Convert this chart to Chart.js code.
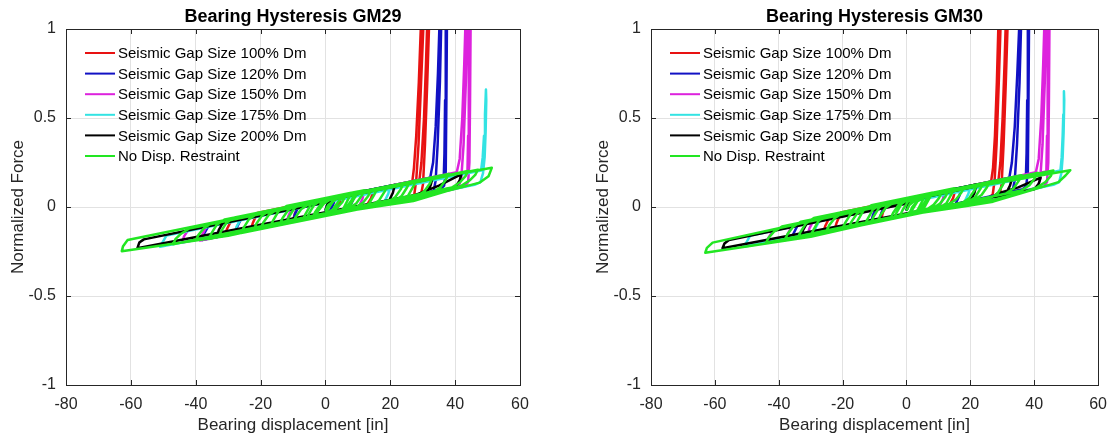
<!DOCTYPE html>
<html>
<head>
<meta charset="utf-8">
<script src="https://cdn.jsdelivr.net/npm/chart.js@4/dist/chart.umd.min.js"></script>
<style>
  html, body { margin: 0; padding: 0; background: #fff; width: 1117px; height: 439px; overflow: hidden; }
  canvas { position: absolute; top: 0; }
  #c29 { left: 0; }
  #c30 { left: 585px; }
</style>
</head>
<body>
<canvas id="c29" width="560" height="439"></canvas>
<canvas id="c30" width="532" height="439"></canvas>
<script>
// Series names, in legend order
const seriesLabels = [
  'Seismic Gap Size 100% Dm',
  'Seismic Gap Size 120% Dm',
  'Seismic Gap Size 150% Dm',
  'Seismic Gap Size 175% Dm',
  'Seismic Gap Size 200% Dm',
  'No Disp. Restraint'
];
const seriesColors = ['#e81212', '#1111c4', '#dd22dd', '#33e3e3', '#000000', '#22e622'];

// Axis ticks
const xTicks = [-80, -60, -40, -20, 0, 20, 40, 60];
const yTicks = [-1, -0.5, 0, 0.5, 1];

// ---------- GM29: [displacement (in), normalized force] ----------
const gm29Gap100 = [
  [0,-0.02],[0.6,0.015],[2,0.052],[14.7,0.089],
  [14.1,0.05],[12.7,0.007],[-10,-0.077],
  [-9.4,-0.035],[-8,0.015],[26.8,0.144],
  [27.3,0.22],[28,0.4],[28.8,0.7],[29.6,1.1],
  [30.4,1.1],[29.5,0.7],[28.7,0.35],[28,0.15],[27.4,0.07],[26,0.051],
  [-23,-0.13],
  [-22.4,-0.09],[-21,-0.033],[29,0.152],
  [29.6,0.25],[30.4,0.5],[31,0.8],[31.5,1.1],
  [32.1,1.1],[31.4,0.7],[30.7,0.35],[30.1,0.13],[29.5,0.07],[28.5,0.06],
  [-31,-0.16],
  [-30.4,-0.125],[-29,-0.075],[5,0.055],
  [4.4,0.025],[3,-0.029],[0,-0.04]
];
const gm29Gap120 = [
  [0,-0.02],[0.6,0.015],[2,0.052],[9,0.078],
  [8.4,0.035],[7,-0.019],[-10,-0.082],
  [-9.4,-0.04],[-8,0.015],[32.3,0.164],
  [33.2,0.25],[34,0.45],[34.7,0.75],[35.3,1.1],
  [35.8,1.1],[35.3,0.7],[34.6,0.35],[34,0.15],[33.4,0.09],[32,0.075],
  [-27.8,-0.148],
  [-27.2,-0.11],[-25.8,-0.06],[36.5,0.175],
  [36.7,0.3],[36.9,0.6],[37.1,1.1],
  [37.5,1.1],[37.3,0.6],[37.1,0.2],[36.6,0.12],[35.5,0.1],[30,0.075],
  [-38,-0.186],
  [-37.4,-0.15],[-36,-0.105],[3,0.045],
  [2.4,0.015],[1,-0.036],[0,-0.04]
];
const gm29Gap150 = [
  [0,-0.02],[0.6,0.015],[2,0.052],[12,0.089],
  [11.4,0.045],[10,-0.008],[-12,-0.089],
  [-11.4,-0.05],[-10,0.008],[40.5,0.195],
  [41.4,0.27],[42.2,0.5],[42.8,0.8],[43.3,1.1],
  [43.8,1.1],[43.3,0.7],[42.6,0.35],[41.9,0.16],[41,0.11],[39.5,0.1],
  [-44.2,-0.199],
  [-43.6,-0.165],[-42.2,-0.125],[43.8,0.2],
  [44,0.4],[44.2,0.8],[44.4,1.1],
  [44.8,1.1],[44.6,0.6],[44.4,0.25],[44,0.14],[43,0.115],
  [-38.7,-0.188],
  [-38.1,-0.16],[-36.7,-0.11],[0,0.025]
];
const gm29Gap175 = [
  [0,-0.02],[0.6,0.015],[2,0.052],[20,0.119],
  [19.4,0.075],[18,0.022],[-51,-0.224],
  [-50.4,-0.205],[-49,-0.16],[48,0.205],
  [48.5,0.28],[48.9,0.4],[49.2,0.52],[49.5,0.66],
  [49.6,0.6],[49.4,0.42],[49.1,0.28],[48.6,0.19],[47.8,0.14],[46,0.125],
  [-28,-0.149],
  [-27.4,-0.11],[-26,-0.065],[0,0.03]
];
const gm29Gap200 = [
  [0,-0.02],[0.6,0.015],[2,0.052],[21.4,0.124],
  [20.8,0.08],[19.4,0.027],[-33.5,-0.169],
  [-32.9,-0.13],[-31.5,-0.085],[33,0.16],
  [32.4,0.12],[31,0.07],[27,0.055],
  [28,0.07],[35,0.12],[41.5,0.18],[42,0.19],
  [41.4,0.15],[40,0.11],[-58,-0.232],
  [-57.4,-0.2],[-56,-0.182],[0,0.025]
];
const gm29Free = [
  [0,-0.02],[0.8,0.01],[2.5,0.034],[5,0.064],
  [4.2,0.034],[2.5,-0.011],[0,-0.04],[-3,-0.051],
  [-2.2,-0.021],[-0.5,0.018],[2,0.0474],[9,0.073],
  [8.2,0.043],[6.5,-0.001],[4,-0.0302],[-7,-0.071],
  [-6.2,-0.041],[-4.5,0.013],[-2,0.0426],[12,0.094],
  [11.2,0.064],[9.5,0.02],[7,-0.009],[2,-0.028],
  [2.8,0.002],[4.5,0.042],[7,0.071],[16,0.104],
  [15.2,0.074],[13.5,0.02],[11,-0.0093],[-10,-0.087],
  [-9.2,-0.057],[-7.5,-0.013],[-5,0.0165],[6,0.057],
  [5.2,0.027],[3.5,-0.007],[1,-0.036],[-14,-0.092],
  [-13.2,-0.062],[-11.5,-0.018],[-9,0.0117],[19,0.115],
  [18.2,0.085],[16.5,0.036],[14,0.0068],[-4,-0.06],
  [-3.2,-0.03],[-1.5,0.014],[1,0.0437],[24,0.129],
  [23.2,0.099],[21.5,0.055],[19,0.0253],[-17,-0.108],
  [-16.2,-0.078],[-14.5,-0.024],[-12,0.0056],[10,0.087],
  [9.2,0.057],[7.5,0.008],[5,-0.0215],[-22,-0.121],
  [-21.2,-0.091],[-19.5,-0.047],[-17,-0.0179],[28,0.149],
  [27.2,0.119],[25.5,0.064],[23,0.0351],[-26,-0.146],
  [-25.2,-0.116],[-23.5,-0.067],[-21,-0.0377],[33,0.162],
  [32.2,0.132],[30.5,0.088],[28,0.0586],[-33,-0.167],
  [-32.2,-0.137],[-30.5,-0.088],[-28,-0.0586],[38,0.186],
  [37.2,0.156],[35.5,0.111],[33,0.0821],[-40,-0.188],
  [-39.2,-0.158],[-37.5,-0.119],[-35,-0.0895],[44,0.203],
  [43.2,0.173],[41.5,0.139],[39,0.1093],[-47,-0.209],
  [-46.2,-0.179],[-44.5,-0.15],[-42,-0.1204],[47,0.209],
  [46.2,0.18],[44.5,0.15],[42,0.12],[37.4,0.093],[27,0.045],[16.8,0.01],[0,-0.042],[-30,-0.162],[-62.8,-0.248],
  [-62.4,-0.22],[-61,-0.185],[-30,-0.07],[0,0.04],[20,0.118],[51.3,0.22],
  [50.3,0.173],[47.6,0.137],[37.4,0.089],[27.1,0.033],[16.8,0.005],[0,-0.042],[-36,-0.18],
  [-35.2,-0.15],[-33.5,-0.099],[-31,-0.0697],[26,0.141],
  [25.2,0.111],[23.5,0.062],[21,0.0327],[-20,-0.119],
  [-19.2,-0.089],[-17.5,-0.045],[-15,-0.0155],[14,0.092],
  [13.2,0.062],[11.5,0.023],[9,-0.0067],[-12,-0.084],
  [-11.2,-0.054],[-9.5,-0.005],[-7,0.0241],[8,0.08],
  [7.2,0.05],[5.5,-0.01],[3,-0.0389],[-6,-0.072],
  [-5.2,-0.042],[-3.5,0.012],[-1,0.0413],[3,0.056],
  [2.2,0.026],[0.5,-0.018],[0,-0.03]
];

// ---------- GM30 ----------
const gm30Gap100 = [
  [0,-0.02],[0.6,0.015],[2,0.052],[15.2,0.09],
  [14.6,0.05],[13.2,0.004],[-22.5,-0.128],
  [-21.9,-0.09],[-20.5,-0.031],[26.5,0.143],
  [27.1,0.22],[27.7,0.4],[28.3,0.7],[28.9,1.1],
  [29.6,1.1],[28.9,0.7],[28.2,0.35],[27.6,0.15],[27,0.07],[25.5,0.049],
  [-26,-0.141],
  [-25.4,-0.105],[-24,-0.055],[28.8,0.15],
  [29.4,0.25],[30.1,0.5],[30.7,0.8],[31.2,1.1],
  [31.8,1.1],[31.1,0.7],[30.4,0.35],[29.8,0.13],[29.2,0.07],[28,0.06],
  [-8,-0.075],
  [-7.4,-0.03],[-6,0.023],[0,0.045]
];
const gm30Gap120 = [
  [0,-0.02],[0.6,0.015],[2,0.052],[17.2,0.109],
  [16.6,0.065],[15.2,0.011],[-11.1,-0.086],
  [-10.5,-0.045],[-9.1,0.011],[32.2,0.164],
  [33,0.25],[33.9,0.45],[34.7,0.75],[35.5,1.1],
  [36,1.1],[35.4,0.7],[34.6,0.35],[33.9,0.15],[33.2,0.09],[32,0.075],
  [-36,-0.178],
  [-35.4,-0.15],[-34,-0.1],[37.4,0.175],
  [37.6,0.3],[37.8,0.6],[38,1.1],
  [38.4,1.1],[38.2,0.6],[38,0.2],[37.5,0.12],[36.4,0.1],[30,0.075],
  [-8.5,-0.076],
  [-7.9,-0.035],[-6.5,0.021],[0,0.045]
];
const gm30Gap150 = [
  [0,-0.02],[0.6,0.015],[2,0.052],[12,0.089],
  [11.4,0.045],[10,-0.008],[-31,-0.16],
  [-30.4,-0.12],[-29,-0.072],[40.5,0.195],
  [41.4,0.27],[42.2,0.5],[42.8,0.8],[43.3,1.1],
  [43.8,1.1],[43.3,0.7],[42.6,0.35],[41.9,0.16],[41,0.11],[39.5,0.1],
  [-43.7,-0.197],
  [-43.1,-0.17],[-41.7,-0.13],[43.8,0.2],
  [44,0.4],[44.2,0.8],[44.4,1.1],
  [44.8,1.1],[44.6,0.6],[44.4,0.25],[44,0.14],[43,0.115],
  [-38,-0.186],
  [-37.4,-0.16],[-36,-0.11],[0,0.02]
];
const gm30Gap175 = [
  [0,-0.02],[0.6,0.015],[2,0.052],[20,0.119],
  [19.4,0.075],[18,0.022],[-50.9,-0.223],
  [-50.3,-0.205],[-48.9,-0.16],[48.2,0.205],
  [48.6,0.28],[48.9,0.4],[49.1,0.52],[49.3,0.65],
  [49.4,0.6],[49.2,0.42],[48.9,0.28],[48.5,0.19],[47.8,0.14],[46,0.125],
  [-29,-0.152],
  [-28.4,-0.115],[-27,-0.07],[0,0.03]
];
const gm30Gap200 = [
  [0,-0.02],[0.6,0.015],[2,0.052],[21.9,0.126],
  [21.3,0.08],[19.9,0.029],[-33,-0.167],
  [-32.4,-0.13],[-31,-0.085],[33,0.158],
  [32.4,0.12],[31,0.07],[27.7,0.055],
  [28.3,0.075],[35,0.11],[42,0.165],
  [41.4,0.13],[40,0.1],[-57.6,-0.232],
  [-57,-0.205],[-55.6,-0.185],[0,0.02]
];
const gm30Free = [
  [0,-0.02],[0.8,0.01],[2.5,0.034],[7,0.071],
  [6.2,0.041],[4.5,-0.008],[2,-0.0376],[-5,-0.0635],
  [-4.2,-0.034],[-2.5,0.011],[0,0.04],[11,0.0807],
  [10.2,0.051],[8.5,0.012],[6,-0.0178],[-2,-0.0474],
  [-1.2,-0.017],[0.5,0.032],[3,0.0611],[15,0.1055],
  [14.2,0.076],[12.5,0.021],[10,-0.008],[-9,-0.0783],
  [-8.2,-0.048],[-6.5,-0.004],[-4,0.0252],[4,0.0548],
  [3.2,0.025],[1.5,-0.024],[-1,-0.0537],[-13,-0.0981],
  [-12.2,-0.068],[-10.5,-0.014],[-8,0.0154],[18,0.1116],
  [17.2,0.082],[15.5,0.042],[13,0.0131],[1,-0.0313],
  [1.8,-0.001],[3.5,0.033],[6,0.0622],[22,0.1214],
  [21.2,0.091],[19.5,0.047],[17,0.0179],[-16,-0.1042],
  [-15.2,-0.074],[-13.5,-0.02],[-11,0.0093],[8,0.0796],
  [7.2,0.05],[5.5,-0.005],[3,-0.0339],[-20,-0.119],
  [-19.2,-0.089],[-17.5,-0.04],[-15,-0.0105],[26,0.1412],
  [25.2,0.111],[23.5,0.067],[21,0.0377],[-25,-0.1325],
  [-24.2,-0.103],[-22.5,-0.063],[-20,-0.034],[31,0.1547],
  [30.2,0.125],[28.5,0.076],[26,0.0462],[-30,-0.161],
  [-29.2,-0.131],[-27.5,-0.077],[-25,-0.0475],[36,0.1782],
  [35.2,0.148],[33.5,0.104],[31,0.0747],[-38,-0.1806],
  [-37.2,-0.151],[-35.5,-0.111],[-33,-0.0821],[41,0.1917],
  [40.2,0.162],[38.5,0.122],[36,0.0932],[-44,-0.2028],
  [-43.2,-0.173],[-41.5,-0.139],[-39,-0.1093],[46,0.2052],
  [45.2,0.175],[43.5,0.14],[41,0.112],[37.4,0.088],[27,0.04],[16.8,0.003],[0,-0.045],[-30,-0.167],[-63,-0.257],
  [-62.5,-0.23],[-60.7,-0.2],[-30,-0.08],[0,0.035],[20,0.11],[51.3,0.207],
  [49.8,0.177],[47.6,0.14],[37.4,0.085],[27.1,0.03],[16.8,0],[0,-0.045],[-34,-0.171],
  [-33.2,-0.141],[-31.5,-0.092],[-29,-0.0623],[24,0.1338],
  [23.2,0.104],[21.5,0.055],[19,0.0253],[-18,-0.1116],
  [-17.2,-0.082],[-15.5,-0.037],[-13,-0.0081],[13,0.0881],
  [12.2,0.058],[10.5,0.019],[8,-0.0104],[-11,-0.0807],
  [-10.2,-0.051],[-8.5,-0.002],[-6,0.0278],[6,0.0722],
  [5.2,0.042],[3.5,-0.017],[1,-0.0463],[-4,-0.0648],
  [-3.2,-0.035],[-1.5,0.019],[1,0.0487],[2,0.0524],
  [1.2,0.022],[0,-0.02]
];

const FONT = "'Liberation Sans', Arial, Helvetica, sans-serif";
const AXIS_COLOR = '#262626';

// Box, inward tick marks, heading and legend drawn over the plot
const decorPlugin = {
  id: 'decor',
  afterDatasetsDraw(chart) {
    const { ctx, chartArea: a, scales } = chart;
    ctx.save();
    ctx.strokeStyle = AXIS_COLOR;
    ctx.lineWidth = 1;
    ctx.beginPath();
    const tl = 5;
    xTicks.forEach(v => {
      const px = Math.round(scales.x.getPixelForValue(v)) + 0.5;
      ctx.moveTo(px, a.bottom); ctx.lineTo(px, a.bottom - tl);
      ctx.moveTo(px, a.top); ctx.lineTo(px, a.top + tl);
    });
    yTicks.forEach(v => {
      const py = Math.round(scales.y.getPixelForValue(v)) + 0.5;
      ctx.moveTo(a.left, py); ctx.lineTo(a.left + tl, py);
      ctx.moveTo(a.right, py); ctx.lineTo(a.right - tl, py);
    });
    ctx.stroke();
    ctx.strokeRect(Math.round(a.left) + 0.5, Math.round(a.top) + 0.5,
                   Math.round(a.right - a.left), Math.round(a.bottom - a.top));
    ctx.restore();
  },
  afterDraw(chart, args, opts) {
    const { ctx, chartArea: a } = chart;
    ctx.save();
    // heading
    ctx.fillStyle = '#000';
    ctx.font = 'bold 18px ' + FONT;
    ctx.textAlign = 'center';
    ctx.textBaseline = 'middle';
    ctx.fillText(opts.heading, (a.left + a.right) / 2, 17);
    // legend
    ctx.font = '15px ' + FONT;
    ctx.textAlign = 'left';
    chart.data.datasets.forEach((ds, i) => {
      const y = a.top + 24 + i * 20.6;
      ctx.strokeStyle = ds.borderColor;
      ctx.lineWidth = 2;
      ctx.beginPath();
      ctx.moveTo(a.left + 19, y);
      ctx.lineTo(a.left + 49, y);
      ctx.stroke();
      ctx.fillStyle = '#000';
      ctx.fillText(ds.label, a.left + 52, y + 1);
    });
    ctx.restore();
  }
};

function toPoints(arr) { return arr.map(p => ({ x: p[0], y: p[1] })); }

function buildChart(id, heading, series, rightPad) {
  const datasets = series.map((s, i) => ({
    label: seriesLabels[i],
    data: toPoints(s),
    borderColor: seriesColors[i],
    backgroundColor: seriesColors[i],
    borderWidth: 2.5,
    borderJoinStyle: 'round',
    pointRadius: 0,
    showLine: true,
    fill: false,
    tension: 0,
    // later series are drawn over earlier ones
    order: series.length - 1 - i
  }));
  return new Chart(document.getElementById(id), {
    type: 'scatter',
    data: { datasets },
    plugins: [decorPlugin],
    options: {
      responsive: false,
      animation: false,
      devicePixelRatio: 1,
      layout: { padding: { top: 29, right: rightPad, left: 0, bottom: 0 } },
      plugins: {
        legend: { display: false },
        tooltip: { enabled: false },
        decor: { heading }
      },
      scales: {
        x: {
          type: 'linear', min: -80, max: 60,
          afterBuildTicks(scale) { scale.ticks = xTicks.map(v => ({ value: v })); },
          afterFit(scale) { scale.height = 54; },
          grid: { color: '#e2e2e2', drawTicks: false },
          border: { display: false },
          ticks: { font: { family: FONT, size: 16 }, color: AXIS_COLOR, padding: 10, maxRotation: 0,
                   callback: v => String(v) },
          title: { display: true, text: 'Bearing displacement [in]', color: AXIS_COLOR,
                   font: { family: FONT, size: 17 }, padding: { top: 0, bottom: 3 } }
        },
        y: {
          type: 'linear', min: -1, max: 1,
          afterBuildTicks(scale) { scale.ticks = yTicks.map(v => ({ value: v })); },
          afterFit(scale) { scale.width = 66; },
          grid: { color: '#e2e2e2', drawTicks: false },
          border: { display: false },
          ticks: { font: { family: FONT, size: 16 }, color: AXIS_COLOR, padding: 10,
                   callback: v => String(v) },
          title: { display: true, text: 'Normalized Force', color: AXIS_COLOR,
                   font: { family: FONT, size: 17 }, padding: { top: 8, bottom: 0 } }
        }
      }
    }
  });
}

buildChart('c29', 'Bearing Hysteresis GM29',
  [gm29Gap100, gm29Gap120, gm29Gap150, gm29Gap175, gm29Gap200, gm29Free], 40);
buildChart('c30', 'Bearing Hysteresis GM30',
  [gm30Gap100, gm30Gap120, gm30Gap150, gm30Gap175, gm30Gap200, gm30Free], 14);
</script>
</body>
</html>
